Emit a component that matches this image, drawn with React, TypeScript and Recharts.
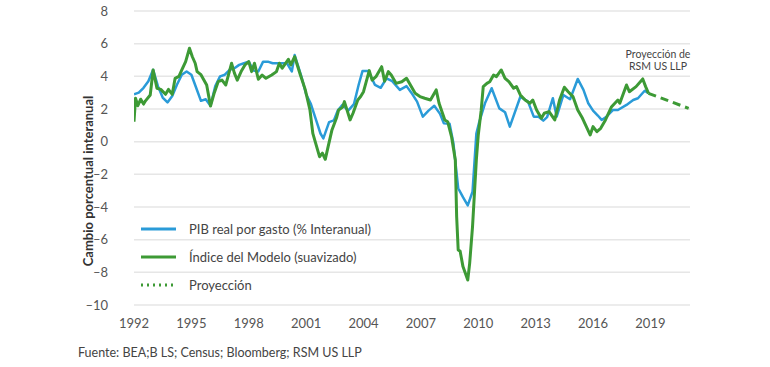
import { LineChart, Line, XAxis, YAxis, CartesianGrid } from 'recharts';

// PIB real por gasto (% interanual), [año, valor]
const pib: [number, number][] = [
  [1992.0, 2.9], [1992.25, 3.0], [1992.5, 3.3], [1992.75, 3.7], [1993.0, 4.4], [1993.25, 3.4],
  [1993.5, 2.7], [1993.75, 2.4], [1994.0, 2.8], [1994.25, 3.5], [1994.5, 4.1], [1994.75, 4.3],
  [1995.0, 4.1], [1995.25, 3.3], [1995.5, 2.5], [1995.75, 2.6], [1996.0, 2.2], [1996.25, 3.4],
  [1996.5, 4.0], [1996.75, 4.1], [1997.0, 4.4], [1997.25, 4.5], [1997.5, 4.7], [1997.75, 4.8],
  [1998.0, 4.9], [1998.25, 4.35], [1998.5, 4.3], [1998.75, 4.9], [1999.0, 4.9], [1999.25, 4.8],
  [1999.5, 4.8], [1999.75, 4.8], [2000.0, 4.8], [2000.25, 4.3], [2000.4, 5.3], [2000.75, 4.0],
  [2001.0, 2.9], [2001.25, 2.3], [2001.5, 1.4], [2001.75, 0.5], [2001.9, 0.2], [2002.2, 1.2],
  [2002.45, 1.3], [2002.65, 1.9], [2002.9, 2.25], [2003.2, 1.9], [2003.5, 2.3], [2003.75, 3.5],
  [2003.95, 4.33], [2004.25, 4.33], [2004.6, 3.47], [2004.9, 3.3], [2005.2, 3.88], [2005.5, 3.7],
  [2005.9, 3.17], [2006.25, 3.4], [2006.5, 3.0], [2006.8, 2.45], [2007.1, 1.53], [2007.4, 1.9],
  [2007.7, 2.2], [2008.0, 1.7], [2008.2, 1.12], [2008.5, 1.1], [2008.7, -0.1], [2008.95, -2.85],
  [2009.2, -3.4], [2009.45, -3.9], [2009.7, -3.06], [2009.9, 0.5], [2010.05, 1.2], [2010.35, 2.35],
  [2010.7, 3.27], [2011.1, 2.04], [2011.4, 1.8], [2011.65, 0.92], [2012.2, 2.75], [2012.6, 2.45],
  [2012.9, 1.53], [2013.15, 1.53], [2013.4, 1.29], [2013.6, 1.5], [2013.9, 2.66], [2014.1, 1.53],
  [2014.45, 2.86], [2014.8, 2.6], [2015.2, 3.84], [2015.5, 3.17], [2015.75, 2.35], [2016.0, 1.9],
  [2016.25, 1.6], [2016.45, 1.33], [2016.7, 1.53], [2017.05, 1.94], [2017.3, 1.94], [2017.75, 2.25],
  [2018.1, 2.55], [2018.35, 2.66], [2018.7, 3.12], [2018.9, 2.96],
];

// Índice del Modelo (suavizado)
const modelo: [number, number][] = [
  [1992.0, 1.22], [1992.08, 2.66], [1992.2, 2.2], [1992.35, 2.6], [1992.5, 2.3], [1992.6, 2.5],
  [1992.85, 2.86], [1993.0, 4.39], [1993.2, 3.27], [1993.4, 3.2], [1993.65, 2.9], [1993.8, 3.2],
  [1994.0, 2.9], [1994.15, 3.88], [1994.35, 4.0], [1994.5, 4.39], [1994.7, 4.9], [1994.9, 5.72],
  [1995.05, 5.2], [1995.2, 4.8], [1995.3, 4.29], [1995.5, 4.1], [1995.8, 3.47], [1996.0, 2.18],
  [1996.2, 3.0], [1996.4, 3.67], [1996.6, 3.77], [1996.8, 3.47], [1997.1, 4.8], [1997.25, 4.2],
  [1997.4, 3.77], [1997.6, 4.29], [1997.8, 4.7], [1998.0, 4.9], [1998.15, 4.29], [1998.3, 4.8],
  [1998.5, 3.82], [1998.7, 4.08], [1998.9, 3.88], [1999.2, 4.08], [1999.45, 4.29], [1999.6, 4.8],
  [1999.75, 4.5], [2000.07, 5.04], [2000.2, 4.7], [2000.4, 5.2], [2000.7, 4.08], [2000.95, 3.2],
  [2001.2, 1.94], [2001.35, 0.51], [2001.5, -0.1], [2001.7, -0.92], [2001.85, -0.7], [2002.0, -1.08],
  [2002.15, -0.3], [2002.35, 0.72], [2002.6, 1.5], [2002.7, 1.94], [2002.9, 2.1], [2003.0, 2.45],
  [2003.3, 1.33], [2003.45, 1.74], [2003.7, 2.55], [2003.85, 2.76], [2004.0, 3.06], [2004.3, 4.35],
  [2004.45, 3.77], [2004.65, 3.98], [2004.95, 4.59], [2005.1, 3.7], [2005.3, 4.29], [2005.45, 4.08],
  [2005.7, 3.57], [2006.0, 3.67], [2006.25, 3.88], [2006.4, 3.57], [2006.7, 2.96], [2006.95, 2.76],
  [2007.2, 2.66], [2007.5, 2.55], [2007.8, 3.17], [2007.95, 2.35], [2008.25, 1.33], [2008.4, 1.22],
  [2008.6, 0.31], [2008.8, -1.12], [2008.87, -4.6], [2008.95, -6.63], [2009.05, -6.7], [2009.2, -7.65],
  [2009.45, -8.47], [2009.55, -7.45], [2009.7, -5.2], [2009.8, -3.15], [2009.9, -1.1], [2010.0, 0.41],
  [2010.15, 1.9], [2010.26, 3.37], [2010.45, 3.57], [2010.6, 3.67], [2010.8, 4.08], [2010.95, 3.98],
  [2011.2, 4.39], [2011.4, 3.88], [2011.6, 3.67], [2011.85, 3.27], [2012.0, 3.37], [2012.2, 2.86],
  [2012.45, 2.55], [2012.7, 2.35], [2012.85, 2.55], [2013.05, 1.94], [2013.3, 1.43], [2013.45, 1.74],
  [2013.7, 1.84], [2014.0, 1.33], [2014.25, 2.55], [2014.5, 3.33], [2014.7, 3.06], [2014.95, 2.76],
  [2015.2, 1.94], [2015.45, 1.43], [2015.85, 0.41], [2016.0, 0.92], [2016.2, 0.61], [2016.4, 0.82],
  [2016.65, 1.33], [2016.97, 2.14], [2017.3, 2.55], [2017.4, 2.35], [2017.75, 3.47], [2017.9, 3.06],
  [2018.25, 3.37], [2018.6, 3.84], [2018.75, 3.37], [2018.9, 2.96],
];

// Proyección de RSM US LLP
const proyeccion: [number, number][] = [
  [2018.9, 2.96], [2021.0, 2.04],
];

const xTicks = [1992, 1995, 1998, 2001, 2004, 2007, 2010, 2013, 2016, 2019];
const yTicks = [-10, -8, -6, -4, -2, 0, 2, 4, 6, 8];

const BLUE = '#2a9bd8';
const GREEN = '#3d9a35';
const FONT = 'Lato, "Open Sans", sans-serif';

const toRows = (pts: [number, number][]) => pts.map(([x, v]) => ({ x, v }));

const legendItems = [
  { label: 'PIB real por gasto (% Interanual)', color: BLUE, dash: undefined as string | undefined },
  { label: 'Índice del Modelo (suavizado)', color: GREEN, dash: undefined as string | undefined },
  { label: 'Proyección', color: GREEN, dash: '2 4' },
];

function LegendBox() {
  return (
    <div style={{ position: 'absolute', left: 140, top: 215, fontFamily: FONT, fontSize: 13, color: '#444' }}>
      {legendItems.map((it) => (
        <div key={it.label} style={{ display: 'flex', alignItems: 'center', height: 28 }}>
          <svg width={49} height={10}>
            <line x1={1} y1={5} x2={36} y2={5} stroke={it.color} strokeWidth={3} strokeDasharray={it.dash} />
          </svg>
          <span>{it.label}</span>
        </div>
      ))}
    </div>
  );
}

export default function App() {
  return (
    <div style={{ position: 'fixed', left: 0, top: 0, width: 770, height: 367, background: '#fff', fontFamily: FONT }}>
      <LineChart width={770} height={367} margin={{ top: 11, right: 80, left: 74, bottom: 32 }}>
        <CartesianGrid vertical={false} stroke="#e6e6e6" strokeWidth={1.5} />
        <XAxis
          dataKey="x"
          type="number"
          domain={[1992, 2021.07]}
          ticks={xTicks}
          axisLine={false}
          tickLine={false}
          tickSize={0}
          tickMargin={14}
          height={30}
          allowDataOverflow
          tick={{ fill: '#555', fontSize: 13, fontFamily: FONT }}
        />
        <YAxis
          type="number"
          domain={[-10, 8]}
          ticks={yTicks}
          axisLine={false}
          tickLine={false}
          tickSize={0}
          tickMargin={26}
          width={60}
          tickFormatter={(v: number) => String(v).replace('-', '\u2013')}
          tick={{ fill: '#555', fontSize: 13, fontFamily: FONT }}
          label={{
            content: () => (
              <text
                x={88}
                y={181}
                transform="rotate(-90 88 181)"
                textAnchor="middle"
                dominantBaseline="central"
                fill="#333"
                fontSize={13}
                fontWeight={700}
                fontFamily={FONT}
              >
                Cambio porcentual interanual
              </text>
            ),
          }}
        />
        <Line data={toRows(pib)} dataKey="v" stroke={BLUE} strokeWidth={2.5} dot={false} isAnimationActive={false} strokeLinejoin="round" />
        <Line data={toRows(modelo)} dataKey="v" stroke={GREEN} strokeWidth={3} dot={false} isAnimationActive={false} strokeLinejoin="round" />
        <Line data={toRows(proyeccion)} dataKey="v" stroke={GREEN} strokeWidth={3} strokeDasharray="8 5" dot={false} isAnimationActive={false} />
      </LineChart>
      <LegendBox />
      <div style={{ position: 'absolute', left: 600, width: 116, top: 48, textAlign: 'center', fontSize: 10.5, lineHeight: '12px', color: '#444' }}>
        Proyección de
        <br />
        RSM US LLP
      </div>
      <div style={{ position: 'absolute', left: 78, top: 345, fontSize: 12.5, color: '#444' }}>
        Fuente: BEA;B LS; Census; Bloomberg; RSM US LLP
      </div>
    </div>
  );
}
